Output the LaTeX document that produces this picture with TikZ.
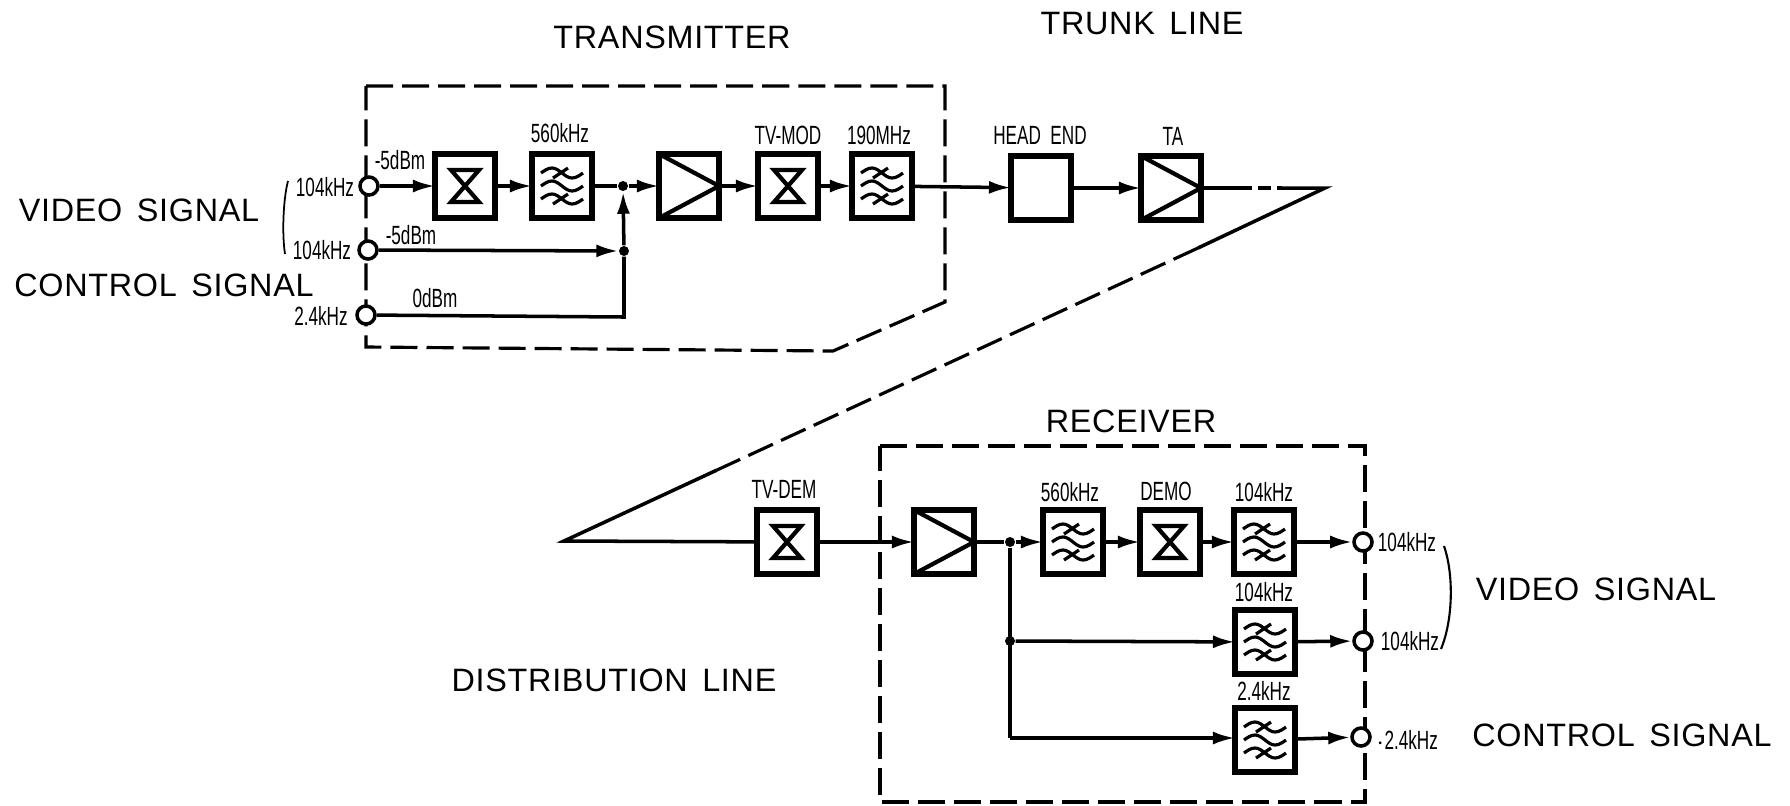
\documentclass[tikz,border=0pt]{standalone}
\usepackage{fontspec}
\usepackage{tikz}
\usetikzlibrary{arrows.meta}
\newfontfamily\titlefont[LetterSpace=2.2,WordSpace=1.5]{Liberation Sans}
\newfontfamily\smallfont[FakeStretch=0.65]{Liberation Sans}
\tikzset{
  blockbox/.style={draw, line width=1.5pt, inner sep=0pt, outer sep=0pt, minimum width=0.6cm, minimum height=0.64cm},
  mixbox/.style={blockbox, path picture={
    \draw[line width=1.2pt, shift={(path picture bounding box.center)}]
      (-14,-16) -- (14,-16) -- (-14,16) -- (14,16) -- cycle;}},
  filtbox/.style={blockbox, path picture={
    \draw[line width=0.9pt, shift={(path picture bounding box.center)}]
      (-21,-13) sin (-10,-18) cos (0,-13) sin (10,-8) cos (21,-13)
      (-21,0) sin (-10,-5) cos (0,0) sin (10,5) cos (21,0)
      (-21,13) sin (-10,8) cos (0,13) sin (10,18) cos (21,13)
      (-9,-8) -- (6,-18) (-9,18) -- (6,8);}},
  ampbox/.style={blockbox, path picture={
    \draw[line width=1.2pt]
      (path picture bounding box.north west) -- (path picture bounding box.east)
      -- (path picture bounding box.south west);}},
  portnode/.style={draw, circle, fill=white, line width=1pt, inner sep=0pt, minimum size=0.18cm},
  dotnode/.style={fill, circle, inner sep=0pt, minimum size=0.1cm},
  biglabel/.style={font=\titlefont\fontsize{9.2}{10}\selectfont},
  smalllabel/.style={font=\smallfont\fontsize{7.5}{8}\selectfont, inner sep=0pt},
  signal/.style={-{Latex[length=0.22cm, width=0.13cm]}, line width=1pt},
  wire/.style={line width=1pt},
  dashline/.style={line width=0.9pt, dash pattern=on 0.27cm off 0.09cm},
  shortdash/.style={line width=0.9pt, dash pattern=on 0.13cm off 0.06cm},
}
\begin{document}
\begin{tikzpicture}[x=0.01cm, y=-0.01cm]
  \useasboundingbox (0,0) rectangle (1790,805);

  % dashed frames
  \draw[dashline] (366,86) -- (945,86) -- (945,302) -- (833,351) -- (366,347) -- cycle;
  \draw[dashline] (880,446) -- (1365,446) -- (1365,802) -- (880,802) -- cycle;

  % transmitter
  \node[portnode] (pin1) at (369,186) {};
  \node[portnode] (pin2) at (368,250) {};
  \node[portnode] (pin3) at (366,315) {};
  \node[mixbox] (mix1) at (465,186) {};
  \node[filtbox] (filt1) at (562,186) {};
  \node[dotnode] (dot1) at (623,186) {};
  \node[dotnode] (dot2) at (624,251) {};
  \node[ampbox] (amp1) at (689,186) {};
  \node[mixbox] (mod1) at (788,186) {};
  \node[filtbox] (filt2) at (882,186) {};
  \coordinate (bend1) at (624,317);

  % trunk line
  \node[blockbox] (head) at (1041,188) {};
  \node[ampbox] (ta) at (1171,188) {};
  \coordinate (apex) at (1325,188);
  \coordinate (trunkend) at (1239,188);
  \coordinate (trunkgap) at (1282,188);
  \coordinate (diagtop) at (1198,248);
  \coordinate (diagend) at (717,470);
  \coordinate (tip) at (564,541);

  % distribution line and receiver
  \node[mixbox] (dem) at (787,542) {};
  \node[ampbox] (amp2) at (944,542) {};
  \node[dotnode] (dot3) at (1010,542) {};
  \node[dotnode] (dot4) at (1010,641) {};
  \node[filtbox] (filt3) at (1073,542) {};
  \node[mixbox] (demo) at (1170,542) {};
  \node[filtbox] (filt4) at (1264,542) {};
  \node[filtbox] (filt5) at (1265,642) {};
  \node[filtbox] (filt6) at (1265,740) {};
  \node[portnode] (pout1) at (1363,542) {};
  \node[portnode] (pout2) at (1363,641) {};
  \node[portnode] (pout3) at (1361,737) {};
  \coordinate (bend2) at (1010,738);

  \draw[signal] (pin1) -- (mix1);
  \draw[signal] (mix1) -- (filt1);
  \draw[wire] (filt1) -- (dot1);
  \draw[signal] (dot1) -- (amp1);
  \draw[signal] (amp1) -- (mod1);
  \draw[signal] (mod1) -- (filt2);
  \draw[signal] (filt2) -- (head);
  \draw[signal] (head) -- (ta);
  \draw[signal] (pin2) -- (dot2);
  \draw[wire] (pin3) -- (bend1) -- (dot2);
  \draw[signal] (dot2) -- (dot1);

  \draw[wire] (ta.east) -- (trunkend);
  \draw[shortdash] (trunkend) -- (trunkgap);
  \draw[wire, line join=miter] (trunkgap) -- (apex) -- (diagtop);
  \draw[dashline] (diagtop) -- (diagend);
  \draw[wire, line join=miter] (diagend) -- (tip) -- (dem);

  \draw[signal] (dem) -- (amp2);
  \draw[wire] (amp2) -- (dot3);
  \draw[signal] (dot3) -- (filt3);
  \draw[signal] (filt3) -- (demo);
  \draw[signal] (demo) -- (filt4);
  \draw[signal] (filt4) -- (pout1);
  \draw[signal] (filt5) -- (pout2);
  \draw[signal] (filt6) -- (pout3);
  \draw[wire] (dot3) -- (bend2);
  \draw[signal] (dot4) -- (filt5);
  \draw[signal] (bend2) -- (filt6.west |- bend2);

  % brackets
  \coordinate (lbra1) at (288,181);
  \coordinate (lbra2) at (285,254);
  \draw[line width=0.5pt] (lbra1) .. controls (283,200) and (282,235) .. (lbra2);
  \coordinate (rbra1) at (1444,546);
  \coordinate (rbra2) at (1441,649);
  \draw[line width=0.6pt] (rbra1) .. controls (1454,575) and (1453,620) .. (rbra2);

  % titles
  \node[biglabel] (ttx) at (672,37) {TRANSMITTER};
  \node[biglabel] (ttrunk) at (1142,24) {TRUNK LINE};
  \node[biglabel] (tvid1) at (139,210) {VIDEO SIGNAL};
  \node[biglabel] (tctl1) at (164,285) {CONTROL SIGNAL};
  \node[biglabel] (trx) at (1131,421) {RECEIVER};
  \node[biglabel] (tdist) at (614,680) {DISTRIBUTION LINE};
  \node[biglabel] (tvid2) at (1596,589) {VIDEO SIGNAL};
  \node[biglabel] (tctl2) at (1622,735) {CONTROL SIGNAL};

  % small labels
  \node[smalllabel] (l1) at (325,187) {104kHz};
  \node[smalllabel] (l2) at (322,250) {104kHz};
  \node[smalllabel] (l3) at (321,316) {2.4kHz};
  \node[smalllabel] (l4) at (400,160) {-5dBm};
  \node[smalllabel] (l5) at (411,235) {-5dBm};
  \node[smalllabel] (l6) at (435,298) {0dBm};
  \node[smalllabel] (l7) at (560,133) {560kHz};
  \node[smalllabel] (l8) at (788,135) {TV-MOD};
  \node[smalllabel] (l9) at (879,135) {190MHz};
  \node[smalllabel] (l10) at (1040,135) {HEAD\ \ END};
  \node[smalllabel] (l11) at (1173,136) {TA};
  \node[smalllabel] (l12) at (784,489) {TV-DEM};
  \node[smalllabel] (l13) at (1070,492) {560kHz};
  \node[smalllabel] (l14) at (1166,491) {DEMO};
  \node[smalllabel] (l15) at (1264,492) {104kHz};
  \node[smalllabel] (l16) at (1264,592) {104kHz};
  \node[smalllabel] (l17) at (1264,691) {2.4kHz};
  \node[smalllabel] (l18) at (1407,542) {104kHz};
  \node[smalllabel] (l19) at (1410,641) {104kHz};
  \node[smalllabel] (l20) at (1407,740) {$\cdot$2.4kHz};
\end{tikzpicture}
\end{document}
